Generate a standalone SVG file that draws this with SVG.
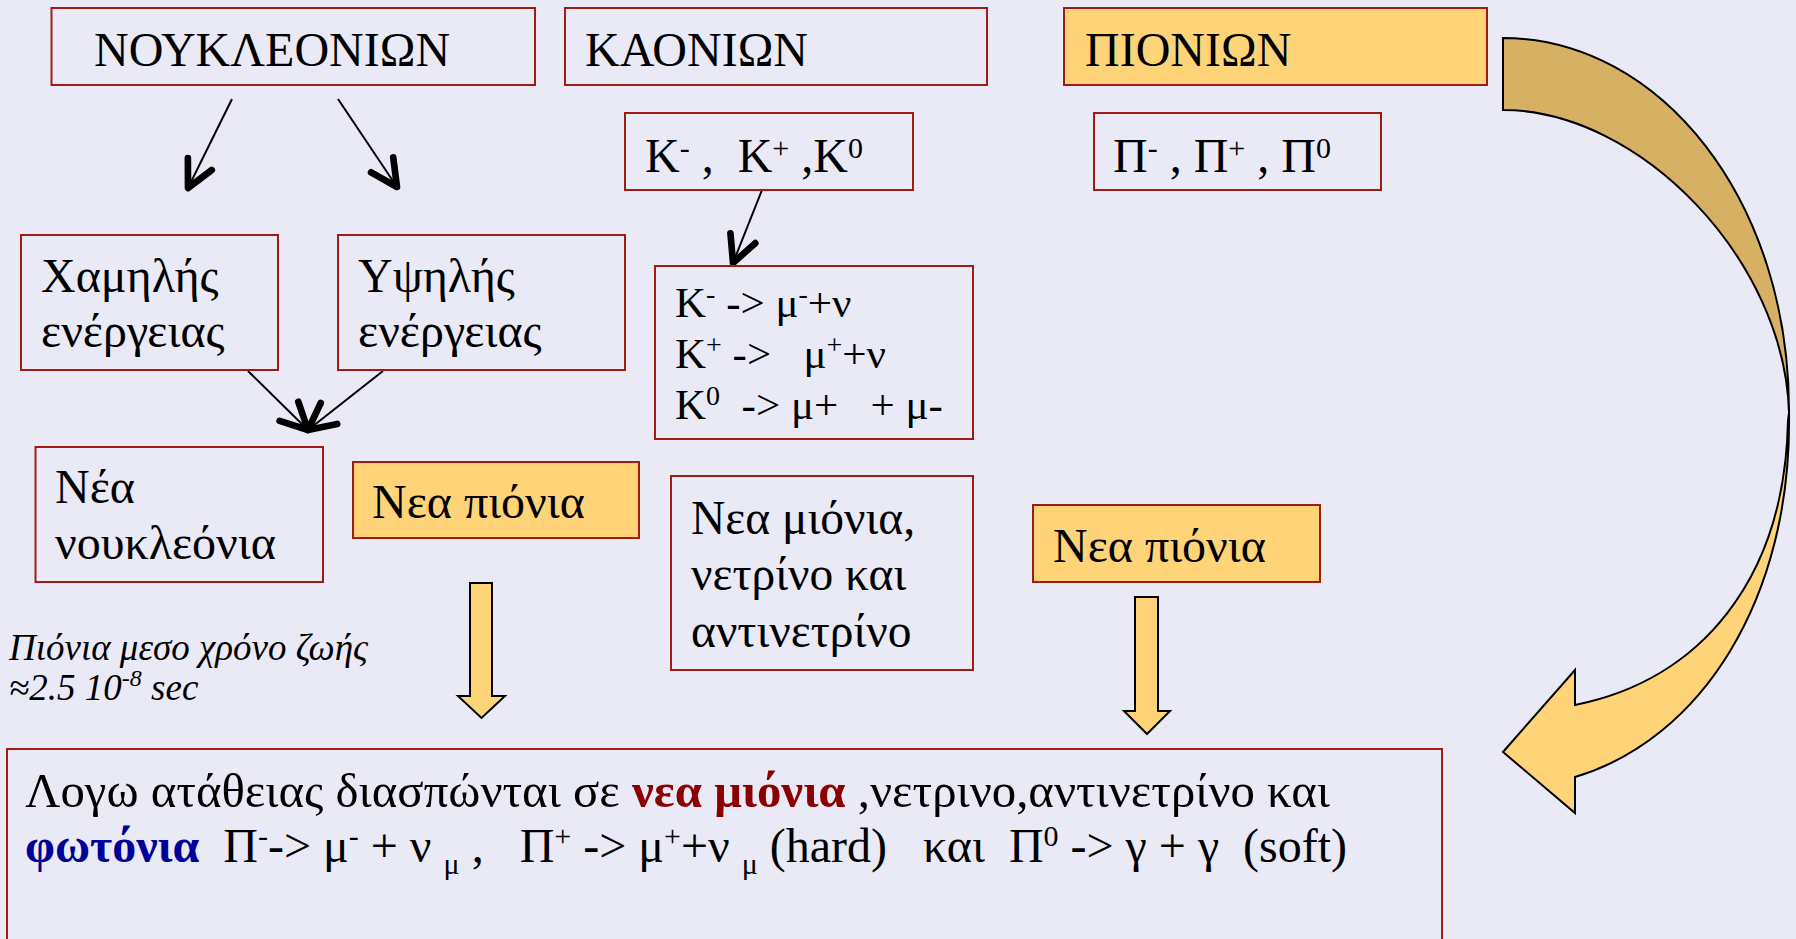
<svg xmlns="http://www.w3.org/2000/svg" width="1796" height="939" viewBox="0 0 1796 939">
<defs>
<style>
text{font-family:"Liberation Serif","Times New Roman",serif;fill:#000;white-space:pre}
.box{fill:none;stroke:#A01C12;stroke-width:2}
.obox{fill:#FFD479;stroke:#A01C12;stroke-width:2}
.t48{font-size:48px}
.t47{font-size:47.5px}
.t43{font-size:43px}
.tb{font-size:48px}
.it{font-size:37px;font-style:italic}
.red{fill:#8B0000;font-weight:bold}
.blue{fill:#000099;font-weight:bold}
.conn{stroke:#000;stroke-width:2;fill:none}
.blk{fill:#FFD479;stroke:#000;stroke-width:2;stroke-linejoin:miter}
</style>
<marker id="ah" markerUnits="userSpaceOnUse" markerWidth="40" markerHeight="40" refX="0" refY="0" viewBox="-25 -15 30 30" orient="auto" overflow="visible">
<path d="M-20,-10 L0,0 L-20,10" fill="none" stroke="#000" stroke-width="5" stroke-linecap="round" stroke-linejoin="round"/>
</marker>
</defs>
<rect x="0" y="0" width="1796" height="939" fill="#EAEAF7"/>

<g id="curved-arrow">
<path class="blk" d="M1789,413 C1792,600 1700,740 1575,777 L1575,813 L1503,752 L1575,670 L1575,705 C1700,680 1785,580 1788,420 Z"/>
<path d="M1503,38 C1660,38 1790,200 1789,413 C1785,260 1640,110 1503,110 Z" fill="#D6B163" stroke="#000" stroke-width="2"/>
</g>

<g id="connectors">
<line class="conn" x1="232" y1="99" x2="188" y2="188" marker-end="url(#ah)"/>
<line class="conn" x1="338" y1="99" x2="397" y2="187" marker-end="url(#ah)"/>
<line class="conn" x1="248" y1="371" x2="308" y2="430" marker-end="url(#ah)"/>
<line class="conn" x1="383" y1="371" x2="308" y2="430" marker-end="url(#ah)"/>
<line class="conn" x1="762" y1="190" x2="733" y2="263" marker-end="url(#ah)"/>
<path class="blk" d="M470,583 H492 V696 H505 L481.5,718 L458,696 H470 Z"/>
<path class="blk" d="M1135,597 H1158 V711 H1170 L1147,734 L1124,711 H1135 Z"/>
</g>

<g id="n-nucleons">
<rect class="box" x="51.5" y="8" width="483.5" height="77"/>
<text class="t48" x="94" y="66">ΝΟΥΚΛΕΟΝΙΩΝ</text>
</g>
<g id="n-kaons">
<rect class="box" x="565" y="8" width="422" height="77"/>
<text class="t48" x="585" y="66">ΚΑΟΝΙΩΝ</text>
</g>
<g id="n-pions">
<rect class="obox" x="1064" y="8" width="423" height="77"/>
<text class="t48" x="1085" y="66">ΠΙΟΝΙΩΝ</text>
</g>
<g id="n-kaon-types">
<rect class="box" x="625" y="113" width="288" height="77"/>
<text class="t48" x="645" y="172">K<tspan dy="-14" font-size="30">-</tspan><tspan dy="14"> ,  K</tspan><tspan dy="-14" font-size="30">+</tspan><tspan dy="14"> ,K</tspan><tspan dy="-14" font-size="30">0</tspan></text>
</g>
<g id="n-pion-types">
<rect class="box" x="1094" y="113" width="287" height="77"/>
<text class="t48" x="1113" y="172">Π<tspan dy="-14" font-size="30">-</tspan><tspan dy="14"> , Π</tspan><tspan dy="-14" font-size="30">+</tspan><tspan dy="14"> , Π</tspan><tspan dy="-14" font-size="30">0</tspan></text>
</g>
<g id="n-low">
<rect class="box" x="21" y="235" width="257" height="135"/>
<text class="t48" x="41" y="292">Χαμηλής</text>
<text class="t48" x="41" y="347">ενέργειας</text>
</g>
<g id="n-high">
<rect class="box" x="338" y="235" width="287" height="135"/>
<text class="t48" x="358" y="292">Υψηλής</text>
<text class="t48" x="358" y="347">ενέργειας</text>
</g>
<g id="n-kaon-decays">
<rect class="box" x="655" y="266" width="318" height="173"/>
<text class="t43" x="675" y="317">K<tspan dy="-14" font-size="28">-</tspan><tspan dy="14"> -&gt; μ</tspan><tspan dy="-14" font-size="28">-</tspan><tspan dy="14">+ν</tspan></text>
<text class="t43" x="675" y="368">K<tspan dy="-14" font-size="28">+</tspan><tspan dy="14"> -&gt;   μ</tspan><tspan dy="-14" font-size="28">+</tspan><tspan dy="14">+ν</tspan></text>
<text class="t43" x="675" y="419">K<tspan dy="-14" font-size="28">0</tspan><tspan dy="14">  -&gt; μ+   + μ-</tspan></text>
</g>
<g id="n-new-nucleons">
<rect class="box" x="35.5" y="447" width="287.5" height="135"/>
<text class="t48" x="55" y="503">Νέα</text>
<text class="t48" x="55" y="559">νουκλεόνια</text>
</g>
<g id="n-new-pions-1">
<rect class="obox" x="353" y="462" width="286" height="76"/>
<text class="t48" x="372" y="518">Νεα πιόνια</text>
</g>
<g id="n-new-muons">
<rect class="box" x="671" y="476" width="302" height="194"/>
<text class="t47" x="691" y="534">Νεα μιόνια,</text>
<text class="t47" x="691" y="590">νετρίνο και</text>
<text class="t47" x="691" y="647">αντινετρίνο</text>
</g>
<g id="n-new-pions-2">
<rect class="obox" x="1033" y="505" width="287" height="77"/>
<text class="t48" x="1053" y="562">Νεα πιόνια</text>
</g>
<g id="n-lifetime">
<text class="it" x="9" y="660">Πιόνια μεσο χρόνο ζωής</text>
<text class="it" x="9" y="700">≈2.5 10<tspan dy="-14" font-size="24">-8</tspan><tspan dy="14"> sec</tspan></text>
</g>
<g id="n-decays">
<rect class="box" x="7" y="749" width="1435" height="210"/>
<text class="tb" x="25" y="807" textLength="1305" lengthAdjust="spacingAndGlyphs">Λογω ατάθειας διασπώνται σε <tspan class="red">νεα μιόνια</tspan> ,νετρινο,αντινετρίνο και</text>
<text class="tb" x="25" y="862"><tspan class="blue">φωτόνια</tspan>  Π<tspan dy="-16" font-size="30">-</tspan><tspan dy="16">-&gt; μ</tspan><tspan dy="-16" font-size="30">-</tspan><tspan dy="16"> + ν </tspan><tspan dy="12" font-size="30">μ</tspan><tspan dy="-12"> ,   Π</tspan><tspan dy="-16" font-size="30">+</tspan><tspan dy="16"> -&gt; μ</tspan><tspan dy="-16" font-size="30">+</tspan><tspan dy="16">+ν </tspan><tspan dy="12" font-size="30">μ</tspan><tspan dy="-12"> (hard)   και  Π</tspan><tspan dy="-16" font-size="30">0</tspan><tspan dy="16"> -&gt; γ + γ  (soft)</tspan></text>
</g>
</svg>
